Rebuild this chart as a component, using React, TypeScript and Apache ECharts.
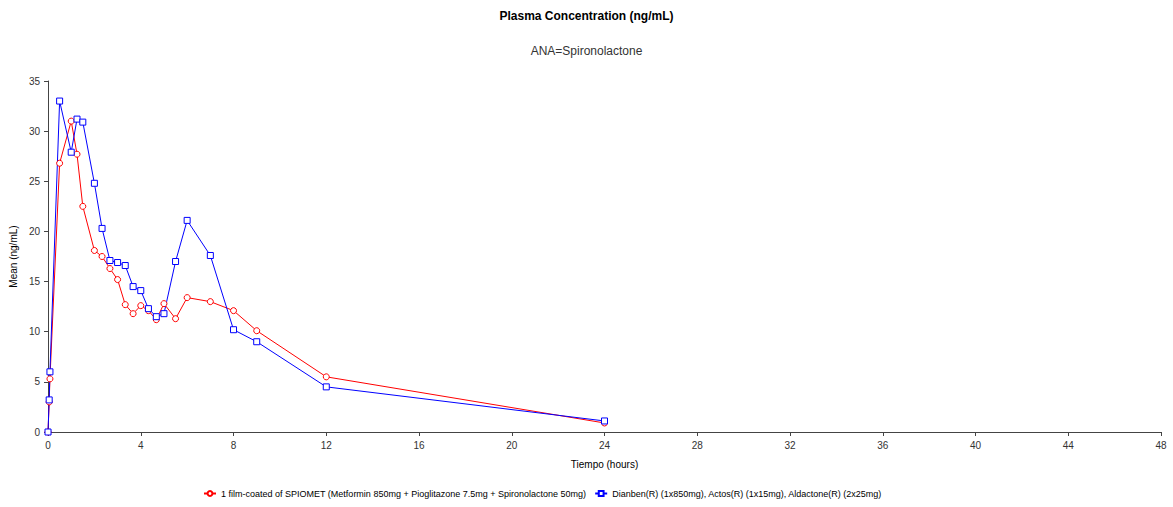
import React, { useEffect, useRef } from "react";
import * as echarts from "echarts";

const spiometTime = [0, 0.05, 0.083, 0.5, 1, 1.25, 1.5, 2, 2.33, 2.67, 3, 3.33, 3.67, 4, 4.33, 4.67, 5, 5.5, 6, 7, 8, 9, 12, 24];
const spiometMean = [0, 3.0, 5.3, 26.8, 31.0, 27.7, 22.5, 18.1, 17.5, 16.3, 15.2, 12.7, 11.8, 12.6, 12.1, 11.2, 12.8, 11.3, 13.4, 13.0, 12.1, 10.1, 5.5, 0.9];

const refTime = [0, 0.05, 0.083, 0.5, 1, 1.25, 1.5, 2, 2.33, 2.67, 3, 3.33, 3.67, 4, 4.33, 4.67, 5, 5.5, 6, 7, 8, 9, 12, 24];
const refMean = [0, 3.2, 6.0, 33.0, 27.9, 31.2, 30.9, 24.8, 20.3, 17.1, 16.9, 16.6, 14.5, 14.1, 12.3, 11.5, 11.8, 17.0, 21.1, 17.6, 10.2, 9.0, 4.5, 1.1];

const seriesNames = [
  "1 film-coated of SPIOMET (Metformin 850mg + Pioglitazone 7.5mg + Spironolactone 50mg)",
  "Dianben(R) (1x850mg), Actos(R) (1x15mg), Aldactone(R) (2x25mg)",
];

const titleText = "Plasma Concentration (ng/mL)";
const subtitleText = "ANA=Spironolactone";
const xAxisName = "Tiempo (hours)";
const yAxisName = "Mean (ng/mL)";

const FONT = "Liberation Sans, Arial, sans-serif";

export default function App() {
  const ref = useRef<HTMLDivElement>(null);
  useEffect(() => {
    if (!ref.current) return;
    const chart = echarts.init(ref.current, undefined, { renderer: "svg" });
    const axisCommon = {
      axisLine: { show: true, lineStyle: { color: "#444", width: 1 } },
      axisTick: { show: true, length: 4, lineStyle: { color: "#444" } },
      axisLabel: { color: "#333", fontSize: 10, fontFamily: FONT },
      splitLine: { show: false },
    };
    chart.setOption({
      animation: false,
      backgroundColor: "#fff",
      title: [
        {
          text: titleText,
          left: "center",
          top: 5,
          textStyle: { fontSize: 12, fontWeight: "bold", color: "#000", fontFamily: FONT },
        },
        {
          text: subtitleText,
          left: "center",
          top: 40,
          textStyle: { fontSize: 12, fontWeight: "normal", color: "#333", fontFamily: FONT },
        },
      ],
      grid: { left: 46, right: 12, top: 81, bottom: 75, containLabel: false },
      legend: {
        bottom: 4,
        left: 198,
        itemWidth: 12,
        itemHeight: 6,
        itemGap: 8,
        textStyle: { fontSize: 9, color: "#000", fontFamily: FONT },
        data: seriesNames,
      },
      xAxis: {
        type: "value",
        min: 0,
        max: 48,
        interval: 4,
        name: xAxisName,
        nameLocation: "middle",
        nameGap: 27,
        nameTextStyle: { fontSize: 10, color: "#000", fontFamily: FONT },
        ...axisCommon,
      },
      yAxis: {
        type: "value",
        min: 0,
        max: 35,
        interval: 5,
        name: yAxisName,
        nameLocation: "middle",
        nameGap: 28,
        nameTextStyle: { fontSize: 10, color: "#000", fontFamily: FONT },
        ...axisCommon,
      },
      series: [
        {
          name: seriesNames[0],
          type: "line",
          data: spiometTime.map((t, i) => [t, spiometMean[i]]),
          symbol: "circle",
          symbolSize: 6,
          showAllSymbol: true,
          itemStyle: { color: "#fff", borderColor: "#ff0000", borderWidth: 1 },
          lineStyle: { color: "#ff0000", width: 1 },
          color: "#ff0000",
        },
        {
          name: seriesNames[1],
          type: "line",
          data: refTime.map((t, i) => [t, refMean[i]]),
          symbol: "rect",
          symbolSize: 6,
          showAllSymbol: true,
          itemStyle: { color: "#fff", borderColor: "#0000ff", borderWidth: 1 },
          lineStyle: { color: "#0000ff", width: 1 },
          color: "#0000ff",
        },
      ],
    });
    return () => chart.dispose();
  }, []);
  return (
    <div
      ref={ref}
      style={{ position: "absolute", left: 0, top: 0, width: 1173, height: 507 }}
    />
  );
}
